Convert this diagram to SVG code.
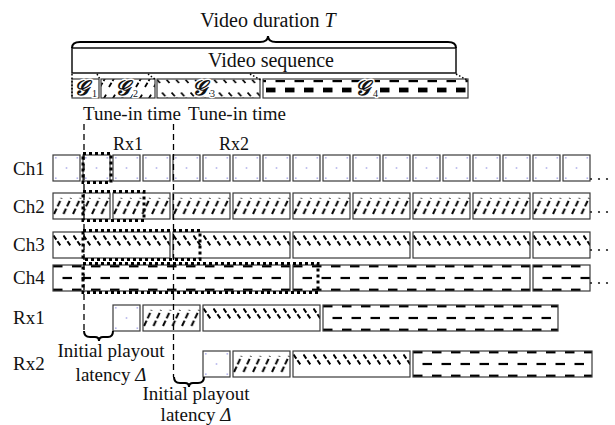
<svg xmlns="http://www.w3.org/2000/svg" xmlns:xlink="http://www.w3.org/1999/xlink" width="615" height="425" viewBox="0 0 615 425">
<style>
.t{font-family:"Liberation Serif","Times New Roman",serif;fill:#111;font-size:19px}
.big{font-size:20px}
.sm{font-size:18px}
.box{stroke:#3a3a3a;stroke-width:1.2}
.g1{fill:url(#p1)}
.g2{fill:url(#p2)}
.g3{fill:url(#p3)}
.g4{fill:url(#p4)}
.hl{fill:none;stroke:#000;stroke-width:3;stroke-dasharray:3 3}
.vd{fill:none;stroke:#000;stroke-width:1.3;stroke-dasharray:6 4}
.br{fill:none;stroke:#000;stroke-width:2}
.dt{fill:none;stroke:#000;stroke-width:1.5;stroke-dasharray:1.5 2}
.gl{font-family:"DejaVu Serif","Liberation Serif",serif;font-style:italic;font-weight:bold;font-size:21px;fill:#111;stroke:#fff;stroke-width:3;paint-order:stroke;stroke-linejoin:round}
.sub{font-family:"Liberation Serif",serif;font-size:10px;fill:#111;stroke:#fff;stroke-width:2.5;paint-order:stroke}
.dot{fill:#222}
</style>
<defs>
<pattern id="p1" patternUnits="userSpaceOnUse" width="30" height="26">
<rect width="30" height="26" fill="#fff"/>
<g fill="#b4b4ec"><rect x="2" y="2" width="1.6" height="1.6"/><rect x="23.5" y="2" width="1.6" height="1.6"/><rect x="12.7" y="12.2" width="1.6" height="1.6"/><rect x="2" y="22.4" width="1.6" height="1.6"/><rect x="23.5" y="22.4" width="1.6" height="1.6"/></g>
</pattern>
<pattern id="p2" patternUnits="userSpaceOnUse" width="9.5" height="26">
<rect width="9.5" height="26" fill="#fff"/>
<line x1="1" y1="21" x2="8.5" y2="5" stroke="#000" stroke-width="2" stroke-dasharray="6 2.5"/>
</pattern>
<pattern id="p3" patternUnits="userSpaceOnUse" width="10" height="26">
<rect width="10" height="26" fill="#fff"/>
<line x1="0.5" y1="3.5" x2="8" y2="14.5" stroke="#000" stroke-width="2" stroke-dasharray="5 2"/>
</pattern>
<pattern id="p4" patternUnits="userSpaceOnUse" width="19" height="26">
<rect width="19" height="26" fill="#fff"/>
<g fill="#000"><rect x="0" y="0" width="9.5" height="2.4"/><rect x="9.5" y="11.9" width="9.5" height="2.2"/><rect x="0" y="23.6" width="9.5" height="2.4"/></g>
</pattern>
<pattern id="ps2" patternUnits="userSpaceOnUse" width="9" height="18">
<rect width="9" height="18" fill="#fff"/>
<line x1="1" y1="15" x2="8" y2="3" stroke="#000" stroke-width="1.8" stroke-dasharray="5 2"/>
</pattern>
<pattern id="ps3" patternUnits="userSpaceOnUse" width="9.5" height="18">
<rect width="9.5" height="18" fill="#fff"/>
<line x1="0.5" y1="2.5" x2="8" y2="11" stroke="#000" stroke-width="1.8" stroke-dasharray="5 2"/>
</pattern>
<pattern id="ps4" patternUnits="userSpaceOnUse" width="19" height="18">
<rect width="19" height="18" fill="#fff"/>
<g fill="#000"><rect x="0" y="0" width="9.5" height="2.4"/><rect x="9.5" y="8" width="9.5" height="2.2"/><rect x="0" y="15.6" width="9.5" height="2.4"/></g>
</pattern>
<rect id="c1" class="box g1" width="27" height="26"/>
<rect id="c2" class="box g2" width="57" height="26"/>
<rect id="c3" class="box g3" width="117" height="26"/>
<rect id="c4" class="box g4" width="237" height="26"/>
<g id="ell"><circle cx="0" cy="0" r="1.1" class="dot"/><circle cx="8" cy="0" r="1.1" class="dot"/><circle cx="16" cy="0" r="1.1" class="dot"/></g>
</defs>
<rect width="615" height="425" fill="#fff"/>

<g id="video-duration">
<text class="t big" x="268" y="27" text-anchor="middle">Video duration <tspan font-style="italic">T</tspan></text>
</g>
<g id="video-sequence">
<rect x="72" y="48" width="384" height="25" fill="#fff" stroke="#111" stroke-width="1.5"/>
<text class="t big" x="271" y="67" text-anchor="middle">Video sequence</text>
</g>
<g id="seg-g1">
<rect class="box" x="72" y="79" width="27" height="19" fill="#fff"/>
<text class="gl" x="74" y="95">𝒢</text><text class="sub" x="92" y="97">1</text>
</g>
<g id="seg-g2">
<rect class="box" x="101" y="79" width="54" height="19" fill="url(#ps2)"/>
<text class="gl" x="115" y="95">𝒢</text><text class="sub" x="133" y="97">2</text>
</g>
<g id="seg-g3">
<rect class="box" x="157" y="79" width="103" height="19" fill="url(#ps3)"/>
<text class="gl" x="192" y="95">𝒢</text><text class="sub" x="210" y="97">3</text>
</g>
<g id="seg-g4">
<rect class="box" x="263" y="79" width="205" height="19" fill="url(#ps4)"/>
<text class="gl" x="355" y="95">𝒢</text><text class="sub" x="373" y="97">4</text>
</g>

<g id="labels">
<text class="t" x="83" y="120">Tune-in time</text>
<text class="t" x="188" y="120">Tune-in time</text>
<text class="t sm" x="128" y="150" text-anchor="middle">Rx1</text>
<text class="t sm" x="234" y="150" text-anchor="middle">Rx2</text>
</g>

<g id="ch1">
<text class="t" x="13" y="175">Ch1</text>
<use href="#c1" x="53" y="155"/><use href="#c1" x="83" y="155"/><use href="#c1" x="113" y="155"/><use href="#c1" x="143" y="155"/><use href="#c1" x="173" y="155"/><use href="#c1" x="203" y="155"/><use href="#c1" x="233" y="155"/><use href="#c1" x="263" y="155"/><use href="#c1" x="293" y="155"/><use href="#c1" x="323" y="155"/><use href="#c1" x="353" y="155"/><use href="#c1" x="383" y="155"/><use href="#c1" x="413" y="155"/><use href="#c1" x="443" y="155"/><use href="#c1" x="473" y="155"/><use href="#c1" x="503" y="155"/><use href="#c1" x="533" y="155"/><use href="#c1" x="563" y="155"/>
<use href="#ell" x="591" y="179"/>
</g>
<g id="ch2">
<text class="t" x="13" y="213">Ch2</text>
<use href="#c2" x="53" y="193"/><use href="#c2" x="113" y="193"/><use href="#c2" x="173" y="193"/><use href="#c2" x="233" y="193"/><use href="#c2" x="293" y="193"/><use href="#c2" x="353" y="193"/><use href="#c2" x="413" y="193"/><use href="#c2" x="473" y="193"/><use href="#c2" x="533" y="193"/>
<use href="#ell" x="591" y="212"/>
</g>
<g id="ch3">
<text class="t" x="13" y="251">Ch3</text>
<use href="#c3" x="53" y="232"/><use href="#c3" x="173" y="232"/><use href="#c3" x="293" y="232"/><use href="#c3" x="413" y="232"/>
<rect class="box g3" x="0" y="0" width="57" height="26" transform="translate(533,232)"/>
<use href="#ell" x="591" y="250"/>
</g>
<g id="ch4">
<text class="t" x="13" y="284">Ch4</text>
<use href="#c4" x="53" y="265"/><use href="#c4" x="293" y="265"/>
<rect class="box g4" x="0" y="0" width="57" height="26" transform="translate(533,265)"/>
<use href="#ell" x="591" y="283"/>
</g>
<g id="rx1">
<text class="t" x="13" y="324">Rx1</text>
<rect class="box g1" width="27" height="26" transform="translate(113,305)"/>
<rect class="box g2" width="57" height="26" transform="translate(143,305)"/>
<rect class="box g3" width="117" height="26" transform="translate(203,305)"/>
<rect class="box g4" width="235" height="26" transform="translate(323,305)"/>
</g>
<g id="rx2">
<text class="t" x="13" y="370">Rx2</text>
<rect class="box g1" width="27" height="26" transform="translate(203,351)"/>
<rect class="box g2" width="57" height="26" transform="translate(233,351)"/>
<rect class="box g3" width="117" height="26" transform="translate(293,351)"/>
<rect class="box g4" width="179" height="26" transform="translate(413,351)"/>
</g>

<g id="rx1-buffers">
<rect class="hl" x="83" y="153.5" width="28" height="29"/>
<rect class="hl" x="83" y="191.5" width="61" height="29"/>
<rect class="hl" x="83" y="230.5" width="117" height="29"/>
<rect class="hl" x="83" y="263.5" width="235" height="29"/>
</g>

<g id="latency-labels">
<text class="t" x="111" y="357" text-anchor="middle">Initial playout</text>
<text class="t" x="111" y="381" text-anchor="middle">latency <tspan font-style="italic">Δ</tspan></text>
<text class="t" x="196" y="400" text-anchor="middle">Initial playout</text>
<text class="t" x="196" y="421" text-anchor="middle">latency <tspan font-style="italic">Δ</tspan></text>
</g>

<g id="connectors">
<path class="br" stroke-width="1.5" d="M72,48 Q72,42 80,42 L260,42 Q268,42 268,36 Q268,42 276,42 L448,42 Q456,42 456,48"/>
<line class="dt" x1="72" y1="74" x2="72" y2="98"/>
<line class="dt" x1="97" y1="74" x2="100.5" y2="80"/>
<line class="dt" x1="148" y1="74" x2="156" y2="80"/>
<line class="dt" x1="250" y1="74" x2="261" y2="80"/>
<line class="dt" x1="456" y1="74" x2="467" y2="80"/>
<line class="vd" x1="84" y1="124" x2="84" y2="331"/>
<line class="vd" x1="173.5" y1="124" x2="173.5" y2="377"/>
<path class="br" d="M84,331 Q84,337 90,337 L95,337 Q99,337 99,341 Q99,337 103,337 L108,337 Q113,337 113,331"/>
<path class="br" d="M174,377 Q174,383 180,383 L185,383 Q189,383 189,387 Q189,383 193,383 L198,383 Q204,383 204,377"/>
</g>
</svg>
